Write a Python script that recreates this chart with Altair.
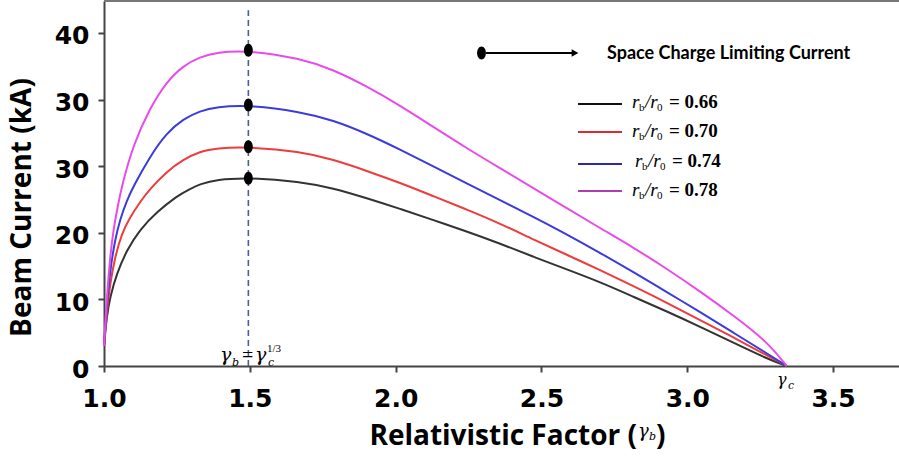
import altair as alt
import pandas as pd

# ---------------- data ----------------
series_names = ["0.66", "0.70", "0.74", "0.78"]
curve_colors = ["#333333", "#ee3b3b", "#3b3bdd", "#e84ce8"]
legend_colors = ["#111111", "#dd2a2a", "#2b2ba8", "#b23bb2"]

gamma_066 = [1.0, 1.009, 1.021, 1.044, 1.078, 1.123, 1.181, 1.249, 1.295, 1.329, 1.386, 1.494,
             1.672, 1.786, 1.901, 2.015, 2.129, 2.232, 2.358, 2.472, 2.587, 2.701, 2.815, 2.930,
             3.044, 3.158, 3.273, 3.341]
current_066 = [3.0, 7.4, 10.4, 13.9, 17.4, 20.5, 23.1, 25.5, 26.6, 27.3, 28.0, 28.3,
               27.7, 26.7, 25.2, 23.6, 21.9, 20.4, 18.4, 16.4, 14.5, 12.6, 10.4, 8.2,
               5.9, 3.5, 1.1, 0.0]

gamma_070 = [1.0, 1.009, 1.021, 1.038, 1.061, 1.089, 1.123, 1.158, 1.215, 1.272, 1.329, 1.386, 1.494,
             1.672, 1.786, 1.901, 2.015, 2.129, 2.244, 2.358, 2.472, 2.587, 2.701, 2.815, 2.930,
             3.044, 3.158, 3.273, 3.341]
current_070 = [3.0, 7.9, 12.4, 16.4, 19.9, 22.3, 24.6, 26.6, 29.2, 31.0, 32.2, 32.7, 32.9,
               32.2, 31.0, 29.3, 27.5, 25.5, 23.5, 21.4, 19.0, 16.7, 14.4, 12.0, 9.5,
               6.9, 4.3, 1.6, 0.0]

gamma_074 = [1.0, 1.009, 1.021, 1.038, 1.055, 1.078, 1.100, 1.158, 1.215, 1.272, 1.329, 1.386, 1.494,
             1.672, 1.786, 1.901, 2.015, 2.129, 2.244, 2.358, 2.472, 2.564, 2.701, 2.815, 2.930,
             3.044, 3.158, 3.273, 3.341]
current_074 = [3.0, 8.9, 14.4, 19.0, 22.0, 24.8, 26.9, 31.5, 35.0, 37.1, 38.3, 38.9, 39.2,
               38.2, 36.9, 34.9, 32.5, 30.0, 27.4, 24.9, 22.4, 20.3, 17.0, 14.1, 11.1,
               8.1, 5.0, 1.9, 0.0]

gamma_078 = [1.0, 1.009, 1.021, 1.032, 1.049, 1.061, 1.100, 1.158, 1.215, 1.272, 1.329, 1.386, 1.494,
             1.672, 1.786, 1.901, 2.015, 2.129, 2.244, 2.358, 2.472, 2.587, 2.701, 2.815, 2.930,
             3.044, 3.158, 3.273, 3.341]
current_078 = [3.0, 9.9, 16.4, 20.4, 24.4, 27.0, 33.2, 38.8, 42.7, 45.1, 46.4, 47.1, 47.4,
               46.2, 44.5, 42.0, 39.1, 35.9, 32.7, 29.7, 26.7, 23.7, 20.7, 17.8, 14.6,
               11.2, 7.6, 3.7, 0.0]

peak_gamma = 1.495
peak_current = [28.2, 32.9, 39.2, 47.4]

x_ticks = [1.0, 1.5, 2.0, 2.5, 3.0, 3.5]
y_ticks = [0, 10, 20, 30, 40, 50]
y_tick_labels = ["0", "10", "20", "30", "30", "40"]

# ---------------- tables ----------------
rows = []
for name, gs, cs in zip(series_names,
                        [gamma_066, gamma_070, gamma_074, gamma_078],
                        [current_066, current_070, current_074, current_078]):
    for g, c in zip(gs, cs):
        rows.append({"series": name, "gamma": g, "current": c})
df = pd.DataFrame(rows)
peaks = pd.DataFrame({"series": series_names, "gamma": [peak_gamma] * 4, "current": peak_current})
vline = pd.DataFrame({"gamma": [peak_gamma], "lo": [0.0], "hi": [53.4]})
one = pd.DataFrame({"k": [0]})

label_expr = " : ".join(
    [f"datum.value == {v} ? '{l}'" for v, l in zip(y_ticks, y_tick_labels)]) + " : datum.label"

W, H = 795, 365
OX, OY = 104, 1  # page position of plot origin

xscale = alt.Scale(domain=[1.0, 3.726], nice=False, zero=False)
yscale = alt.Scale(domain=[0, 54.8], nice=False, zero=True)
ELLIPSE = "M0,-1A0.68,1,0,1,1,0,1A0.68,1,0,1,1,0,-1Z"

axis_common = dict(
    domainColor="#444444", domainWidth=2, tickColor="#444444", tickWidth=2, tickSize=6,
    grid=False, labelColor="black", labelFont="DejaVu Sans", labelFontWeight="bold",
    labelFontSize=25, labelFlush=False,
)
x_axis = alt.Axis(values=x_ticks, format=".1f", title=None, labelPadding=14, **axis_common)
y_axis = alt.Axis(values=y_ticks, labelExpr=label_expr, labelPadding=9, labelOffset=3,
                  title="Beam Current (kA)", titleFont="Open Sans", titleFontWeight="bold",
                  titleFontSize=28, titleColor="black", titleX=22 - OX, titleY=206,
                  titleBaseline="middle", titleAngle=270, **axis_common)

lines = alt.Chart(df).mark_line(strokeWidth=2, interpolate="basis").encode(
    x=alt.X("gamma:Q", scale=xscale, axis=x_axis),
    y=alt.Y("current:Q", scale=yscale, axis=y_axis),
    color=alt.Color("series:N", scale=alt.Scale(domain=series_names, range=curve_colors), legend=None),
    order=alt.Order("gamma:Q"),
)

dash = alt.Chart(vline).mark_rule(color="#4a5f95", strokeWidth=1.6, strokeDash=[6, 4]).encode(
    x=alt.X("gamma:Q", scale=xscale, axis=x_axis),
    y=alt.Y("lo:Q", scale=yscale, axis=y_axis),
    y2="hi:Q",
)

dots = alt.Chart(peaks).mark_point(shape=ELLIPSE, filled=True, size=169, color="black",
                                   opacity=1, strokeWidth=0).encode(
    x=alt.X("gamma:Q", scale=xscale, axis=x_axis),
    y=alt.Y("current:Q", scale=yscale, axis=y_axis),
)

top_border = alt.Chart(one).mark_rule(color="#777777", strokeWidth=2).encode(
    x=alt.value(0), x2=alt.value(W), y=alt.value(0))


def txt(s, px, py, size, font="Liberation Serif", style="normal", weight="normal",
        align="left", baseline="alphabetic"):
    return alt.Chart(one).mark_text(
        text=s, font=font, fontSize=size, fontStyle=style, fontWeight=weight,
        align=align, baseline=baseline, color="black",
    ).encode(x=alt.value(px - OX), y=alt.value(py - OY))


def hline(x1, x2, py, color, width=2):
    return alt.Chart(one).mark_rule(color=color, strokeWidth=width).encode(
        x=alt.value(x1 - OX), x2=alt.value(x2 - OX), y=alt.value(py - OY))


def glyph(shape, px, py, size):
    return alt.Chart(one).mark_point(shape=shape, filled=True, size=size, color="black",
                                     opacity=1, strokeWidth=0).encode(
        x=alt.value(px - OX), y=alt.value(py - OY))


layers = [lines, dash, dots, top_border]

# x axis title with gamma_b
layers += [
    txt("Relativistic Factor (", 637, 445, 28, font="Open Sans", weight="bold", align="right"),
    txt("γ", 638, 437, 18, font="DejaVu Serif", style="italic"),
    txt("b", 649, 440, 11, font="DejaVu Serif", style="italic"),
    txt(")", 656, 445, 28, font="Open Sans", weight="bold"),
]

# gamma_b = gamma_c^(1/3) annotation
layers += [
    txt("γ", 220, 361, 19, font="DejaVu Serif", style="italic"),
    txt("b", 232, 366, 11, font="DejaVu Serif", style="italic"),
    txt("=", 242, 362, 20),
    txt("γ", 255, 361, 19, font="DejaVu Serif", style="italic"),
    txt("c", 268, 366, 11, font="DejaVu Serif", style="italic"),
    txt("1/3", 267, 352, 11),
]

# gamma_c label under the axis
layers += [
    txt("γ", 777, 385, 16, font="DejaVu Serif", style="italic"),
    txt("c", 788, 389, 11, font="DejaVu Serif", style="italic"),
]

# space charge limiting current marker
layers += [
    glyph(ELLIPSE, 481.5, 53, 169),
    hline(486, 574, 53, "black", 2),
    glyph("triangle-right", 575, 53, 60),
    txt("Space Charge Limiting Current", 607, 59, 18, font="Lato", weight="bold"),
]

# legend
legend_rows = [(104, 632, 108), (132, 632, 137), (164, 635, 167), (191, 632, 196)]
for (ly, x0, by), name, col in zip(legend_rows, series_names, legend_colors):
    layers += [
        hline(578, 622, ly, col, 2),
        txt("r", x0, by, 19, style="italic"),
        txt("b", x0 + 7, by + 3, 11),
        txt("/r", x0 + 13, by, 19, style="italic"),
        txt("0", x0 + 25, by + 3, 11),
        txt("= " + name, x0 + 37, by, 19, weight="bold"),
    ]

chart = alt.layer(*layers).properties(
    width=W, height=H,
    padding={"left": OX, "top": OY, "right": 0, "bottom": 459 - OY - H},
    autosize=alt.AutoSizeParams(type="none"),
).configure_view(stroke=None)

chart.save("out.html", embed_options={"renderer": "svg", "actions": False})
